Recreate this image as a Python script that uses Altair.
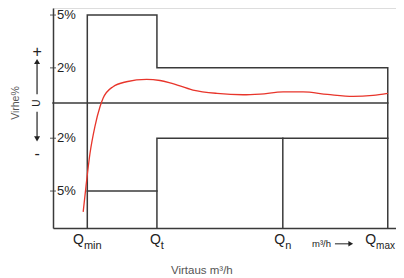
import altair as alt
import pandas as pd

# ---- data ----
Q_SUBS = ["min", "t", "n", "max"]
Q_POS = [10, 30.3, 67, 97.6]      # flow positions (relative units 0..100)
QMIN, QT, QN, QMAX = Q_POS

UPPER_LOW, UPPER_HIGH = 5, 2      # upper error limits (%)
LOWER_LOW, LOWER_HIGH = -5, -2    # lower error limits (%)

Y_TICKS = [5, 2, -2, -5]
Y_TICK_LABELS = ["5%", "2%", "2%", "5%"]

CURVE_X = [8.8, 9.6, 10.8, 12.2, 13.7, 14.6, 17.5, 21.4, 27.3, 31.2, 34.1,
           40.8, 47.8, 55.4, 60.4, 67.1, 72.9, 80.0, 87.5, 93.3, 97.6]
CURVE_Y = [-6.18, -4.76, -2.84, -1.35, -0.21, 0.27, 0.93, 1.21, 1.35, 1.28, 1.15,
           0.74, 0.55, 0.47, 0.51, 0.63, 0.63, 0.49, 0.38, 0.44, 0.55]

X_DOMAIN = [0, 100]
Y_DOMAIN = [-7.1, 5.4]
YB = Y_DOMAIN[0]

W, H = 343, 220

LINE = "#3a3a3a"
RED = "#e8352b"
GRAY = "#555555"
FONT = "Liberation Sans"

xs = alt.Scale(domain=X_DOMAIN, nice=False, zero=False)
ys = alt.Scale(domain=Y_DOMAIN, nice=False, zero=False)

# ---- limit paths ----
paths = {
    "upper": [(QMIN, YB), (QMIN, UPPER_LOW), (QT, UPPER_LOW), (QT, UPPER_HIGH),
              (QMAX, UPPER_HIGH), (QMAX, YB)],
    "lower": [(QT, YB), (QT, LOWER_HIGH), (QMAX, LOWER_HIGH)],
    "lowmin": [(QMIN, LOWER_LOW), (QT, LOWER_LOW)],
    "qn": [(QN, LOWER_HIGH), (QN, YB)],
    "zero": [(X_DOMAIN[0], 0), (QMAX, 0)],
}
rows = []
for name, pts in paths.items():
    for i, (px, py) in enumerate(pts):
        rows.append({"path": name, "o": i, "x": px, "y": py})
paths_df = pd.DataFrame(rows)

base_axes = alt.Chart(paths_df).mark_line(
    color=LINE, strokeWidth=1.5, strokeJoin="miter", strokeCap="square"
).encode(
    x=alt.X("x:Q", scale=xs, axis=alt.Axis(labels=False, ticks=False, grid=False, title=None,
                                           domainColor=LINE, domainWidth=1.5)),
    y=alt.Y("y:Q", scale=ys, axis=alt.Axis(labels=False, ticks=False, grid=False, title=None,
                                           domainColor=LINE, domainWidth=1.5)),
    detail="path:N",
    order="o:Q",
)

curve_df = pd.DataFrame({"x": CURVE_X, "y": CURVE_Y})
curve = alt.Chart(curve_df).mark_line(color=RED, strokeWidth=1.3, interpolate="monotone").encode(
    x=alt.X("x:Q", scale=xs), y=alt.Y("y:Q", scale=ys)
)

# y ticks crossing the axis and their labels (inside the plot)
ytick_df = pd.DataFrame({"x": [X_DOMAIN[0]] * len(Y_TICKS), "y": Y_TICKS, "label": Y_TICK_LABELS})
yticks = alt.Chart(ytick_df).mark_tick(orient="horizontal", size=6, thickness=1.2, color=LINE).encode(
    x=alt.X("x:Q", scale=xs), y=alt.Y("y:Q", scale=ys)
)
ylabels = alt.Chart(ytick_df).mark_text(align="left", baseline="middle", dx=4, fontSize=13,
                                        font=FONT, color="#222").encode(
    x=alt.X("x:Q", scale=xs), y=alt.Y("y:Q", scale=ys), text="label:N"
)

layers = [base_axes, curve, yticks, ylabels]

# x labels Q with subscripts, whole label centered on its position (kept inside the page)
Q_FS = 14
SUB_FS = {"min": 11, "t": 11, "n": 11, "max": 10}
SUB_EM = {"min": 1.611, "t": 0.278, "n": 0.556, "max": 1.889}
for sub, qx in zip(Q_SUBS, Q_POS):
    wq = 0.778 * Q_FS
    ws = SUB_EM[sub] * SUB_FS[sub]
    off = (wq - ws) / 2
    px = (qx - X_DOMAIN[0]) / (X_DOMAIN[1] - X_DOMAIN[0]) * W
    over = px + off + ws - (W - 1)
    if over > 0:
        off -= over
    d = pd.DataFrame({"x": [qx], "y": [YB], "q": ["Q"], "s": [sub]})
    layers.append(alt.Chart(d).mark_text(align="right", baseline="alphabetic", dx=off, dy=16,
                                         fontSize=Q_FS, font=FONT, color="#222").encode(
        x=alt.X("x:Q", scale=xs), y=alt.Y("y:Q", scale=ys), text="q:N"))
    layers.append(alt.Chart(d).mark_text(align="left", baseline="alphabetic", dx=off, dy=21,
                                         fontSize=SUB_FS[sub], font=FONT, color="#222").encode(
        x=alt.X("x:Q", scale=xs), y=alt.Y("y:Q", scale=ys), text="s:N"))

# unit arrow "m³/h →"
unit_df = pd.DataFrame({"x": [75.5], "y": [YB], "t": ["m³/h"]})
layers.append(alt.Chart(unit_df).mark_text(align="left", baseline="alphabetic", dy=19,
                                           fontSize=9.5, font=FONT, color="#222").encode(
    x=alt.X("x:Q", scale=xs), y=alt.Y("y:Q", scale=ys), text="t:N"))
ua_df = pd.DataFrame({"x": [82.2], "x2": [86.8], "y": [-8.0]})
layers.append(alt.Chart(ua_df).mark_rule(color="#222", strokeWidth=1).encode(
    x=alt.X("x:Q", scale=xs), x2="x2:Q", y=alt.Y("y:Q", scale=ys)))
layers.append(alt.Chart(pd.DataFrame({"x": [86.8], "y": [-8.0]})).mark_point(
    shape="triangle-right", filled=True, size=30, color="#222", opacity=1).encode(
    x=alt.X("x:Q", scale=xs), y=alt.Y("y:Q", scale=ys)))

# x title
xt_df = pd.DataFrame({"x": [43.4], "y": [YB], "t": ["Virtaus m³/h"]})
layers.append(alt.Chart(xt_df).mark_text(align="center", baseline="alphabetic", dy=46,
                                         fontSize=11.5, font=FONT, color=GRAY).encode(
    x=alt.X("x:Q", scale=xs), y=alt.Y("y:Q", scale=ys), text="t:N"))

# left annotations: + ↑ U ↓ -  and "Virhe%"
ANN_X = -4.65
sym_df = pd.DataFrame({"x": [ANN_X, ANN_X], "y": [2.92, -2.9], "t": ["+", "-"]})
layers.append(alt.Chart(sym_df).mark_text(align="center", baseline="middle", fontSize=16,
                                          font=FONT, color="#222").encode(
    x=alt.X("x:Q", scale=xs), y=alt.Y("y:Q", scale=ys), text="t:N"))
u_df = pd.DataFrame({"x": [ANN_X], "y": [0.0], "t": ["U"]})
layers.append(alt.Chart(u_df).mark_text(align="center", baseline="middle", fontSize=10, angle=270,
                                        font=FONT, color="#222").encode(
    x=alt.X("x:Q", scale=xs), y=alt.Y("y:Q", scale=ys), text="t:N"))
shaft_df = pd.DataFrame({"x": [ANN_X, ANN_X], "y": [0.5, -0.5], "y2": [2.33, -2.0]})
layers.append(alt.Chart(shaft_df).mark_rule(color="#222", strokeWidth=1.2).encode(
    x=alt.X("x:Q", scale=xs), y=alt.Y("y:Q", scale=ys), y2="y2:Q"))
head_df = pd.DataFrame({"x": [ANN_X, ANN_X], "y": [2.36, -2.04], "s": ["triangle-up", "triangle-down"]})
layers.append(alt.Chart(head_df).mark_point(filled=True, size=36, color="#222", opacity=1).encode(
    x=alt.X("x:Q", scale=xs), y=alt.Y("y:Q", scale=ys),
    shape=alt.Shape("s:N", scale=None)))
vt_df = pd.DataFrame({"x": [-10.8], "y": [0.0], "t": ["Virhe%"]})
layers.append(alt.Chart(vt_df).mark_text(align="center", baseline="middle", fontSize=10.5, angle=270,
                                         font=FONT, color=GRAY).encode(
    x=alt.X("x:Q", scale=xs), y=alt.Y("y:Q", scale=ys), text="t:N"))

chart = alt.layer(*layers).properties(
    width=W, height=H,
    autosize=alt.AutoSizeParams(type="none"),
    padding={"left": 45, "top": 0, "right": 0, "bottom": 50},
).configure_view(stroke=None).configure(background="white")

chart.save("out.html", embed_options={"renderer": "svg", "actions": False})
